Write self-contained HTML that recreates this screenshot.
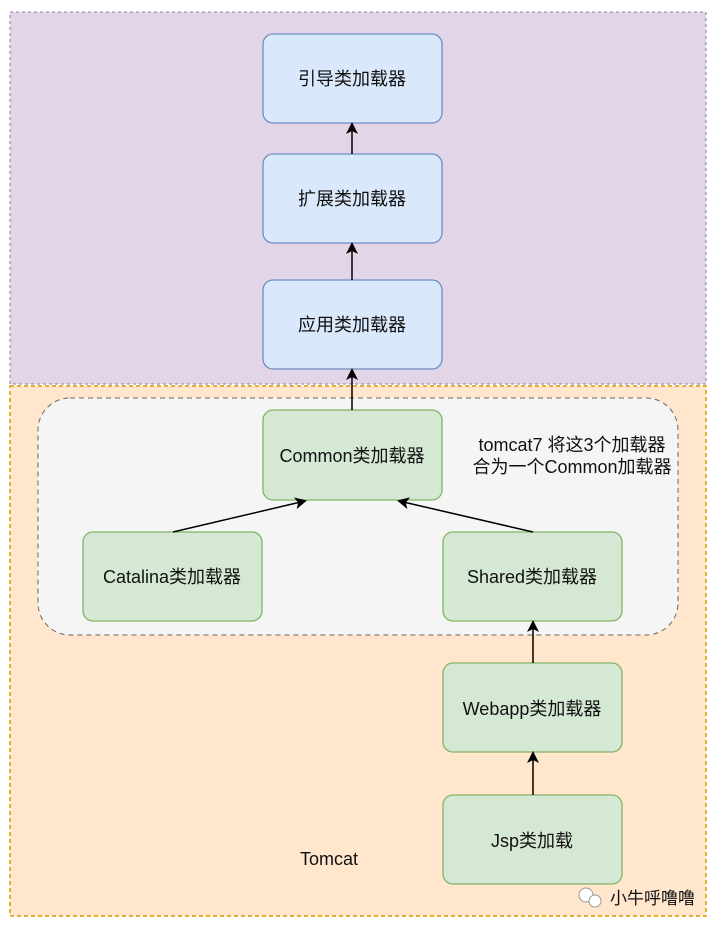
<!DOCTYPE html>
<html><head><meta charset="utf-8"><style>body{margin:0;background:#fff}svg{display:block}text{font-family:"Liberation Sans","Noto Sans CJK SC",sans-serif;font-size:18px;fill:#111}</style></head><body>
<svg width="720" height="930" viewBox="0 0 720 930">
<defs><marker id="a" markerWidth="12" markerHeight="12" refX="10" refY="6" orient="auto" markerUnits="userSpaceOnUse"><path d="M0,0 L12,6 L0,12 L3,6z" fill="#000"/></marker></defs>
<rect x="10" y="12" width="696" height="372" fill="#e1d5e7" stroke="#9673a6" stroke-dasharray="3,3"/>
<rect x="10" y="386" width="696" height="530" fill="#ffe6cc" stroke="#d79b00" stroke-dasharray="4,3" stroke-width="1.5"/>
<rect x="38" y="398" width="640" height="237" rx="32" fill="#f5f5f5" stroke="#666" stroke-dasharray="5,4"/>
<g fill="#dae8fc" stroke="#6c8ebf" stroke-width="1.3">
<rect x="263" y="34" width="179" height="89" rx="10"/>
<rect x="263" y="154" width="179" height="89" rx="10"/>
<rect x="263" y="280" width="179" height="89" rx="10"/>
</g>
<g fill="#d5e8d4" stroke="#82b366" stroke-width="1.3">
<rect x="263" y="410" width="179" height="90" rx="10"/>
<rect x="83" y="532" width="179" height="89" rx="10"/>
<rect x="443" y="532" width="179" height="89" rx="10"/>
<rect x="443" y="663" width="179" height="89" rx="10"/>
<rect x="443" y="795" width="179" height="89" rx="10"/>
</g>
<g stroke="#000" stroke-width="1.5" marker-end="url(#a)">
<line x1="352" y1="154" x2="352" y2="124"/>
<line x1="352" y1="280" x2="352" y2="244"/>
<line x1="352" y1="410" x2="352" y2="370"/>
<line x1="173" y1="532" x2="305" y2="501"/>
<line x1="533" y1="532" x2="399" y2="501"/>
<line x1="533" y1="663" x2="533" y2="622"/>
<line x1="533" y1="795" x2="533" y2="753"/>
</g>
<g text-anchor="middle">
<text x="352" y="85">引导类加载器</text>
<text x="352" y="205">扩展类加载器</text>
<text x="352" y="331">应用类加载器</text>
<text x="352" y="462">Common类加载器</text>
<text x="172" y="583">Catalina类加载器</text>
<text x="532" y="583">Shared类加载器</text>
<text x="532" y="715">Webapp类加载器</text>
<text x="532" y="847">Jsp类加载</text>
<text x="572" y="451">tomcat7 将这3个加载器</text>
<text x="572" y="473">合为一个Common加载器</text>
<text x="329" y="865">Tomcat</text>
</g>
<circle cx="586" cy="895" r="7" fill="#fff" stroke="#999"/>
<circle cx="595" cy="901" r="6" fill="#fff" stroke="#999"/>
<text x="610" y="904" style="font-size:17px">小牛呼噜噜</text>
</svg>
</body></html>
